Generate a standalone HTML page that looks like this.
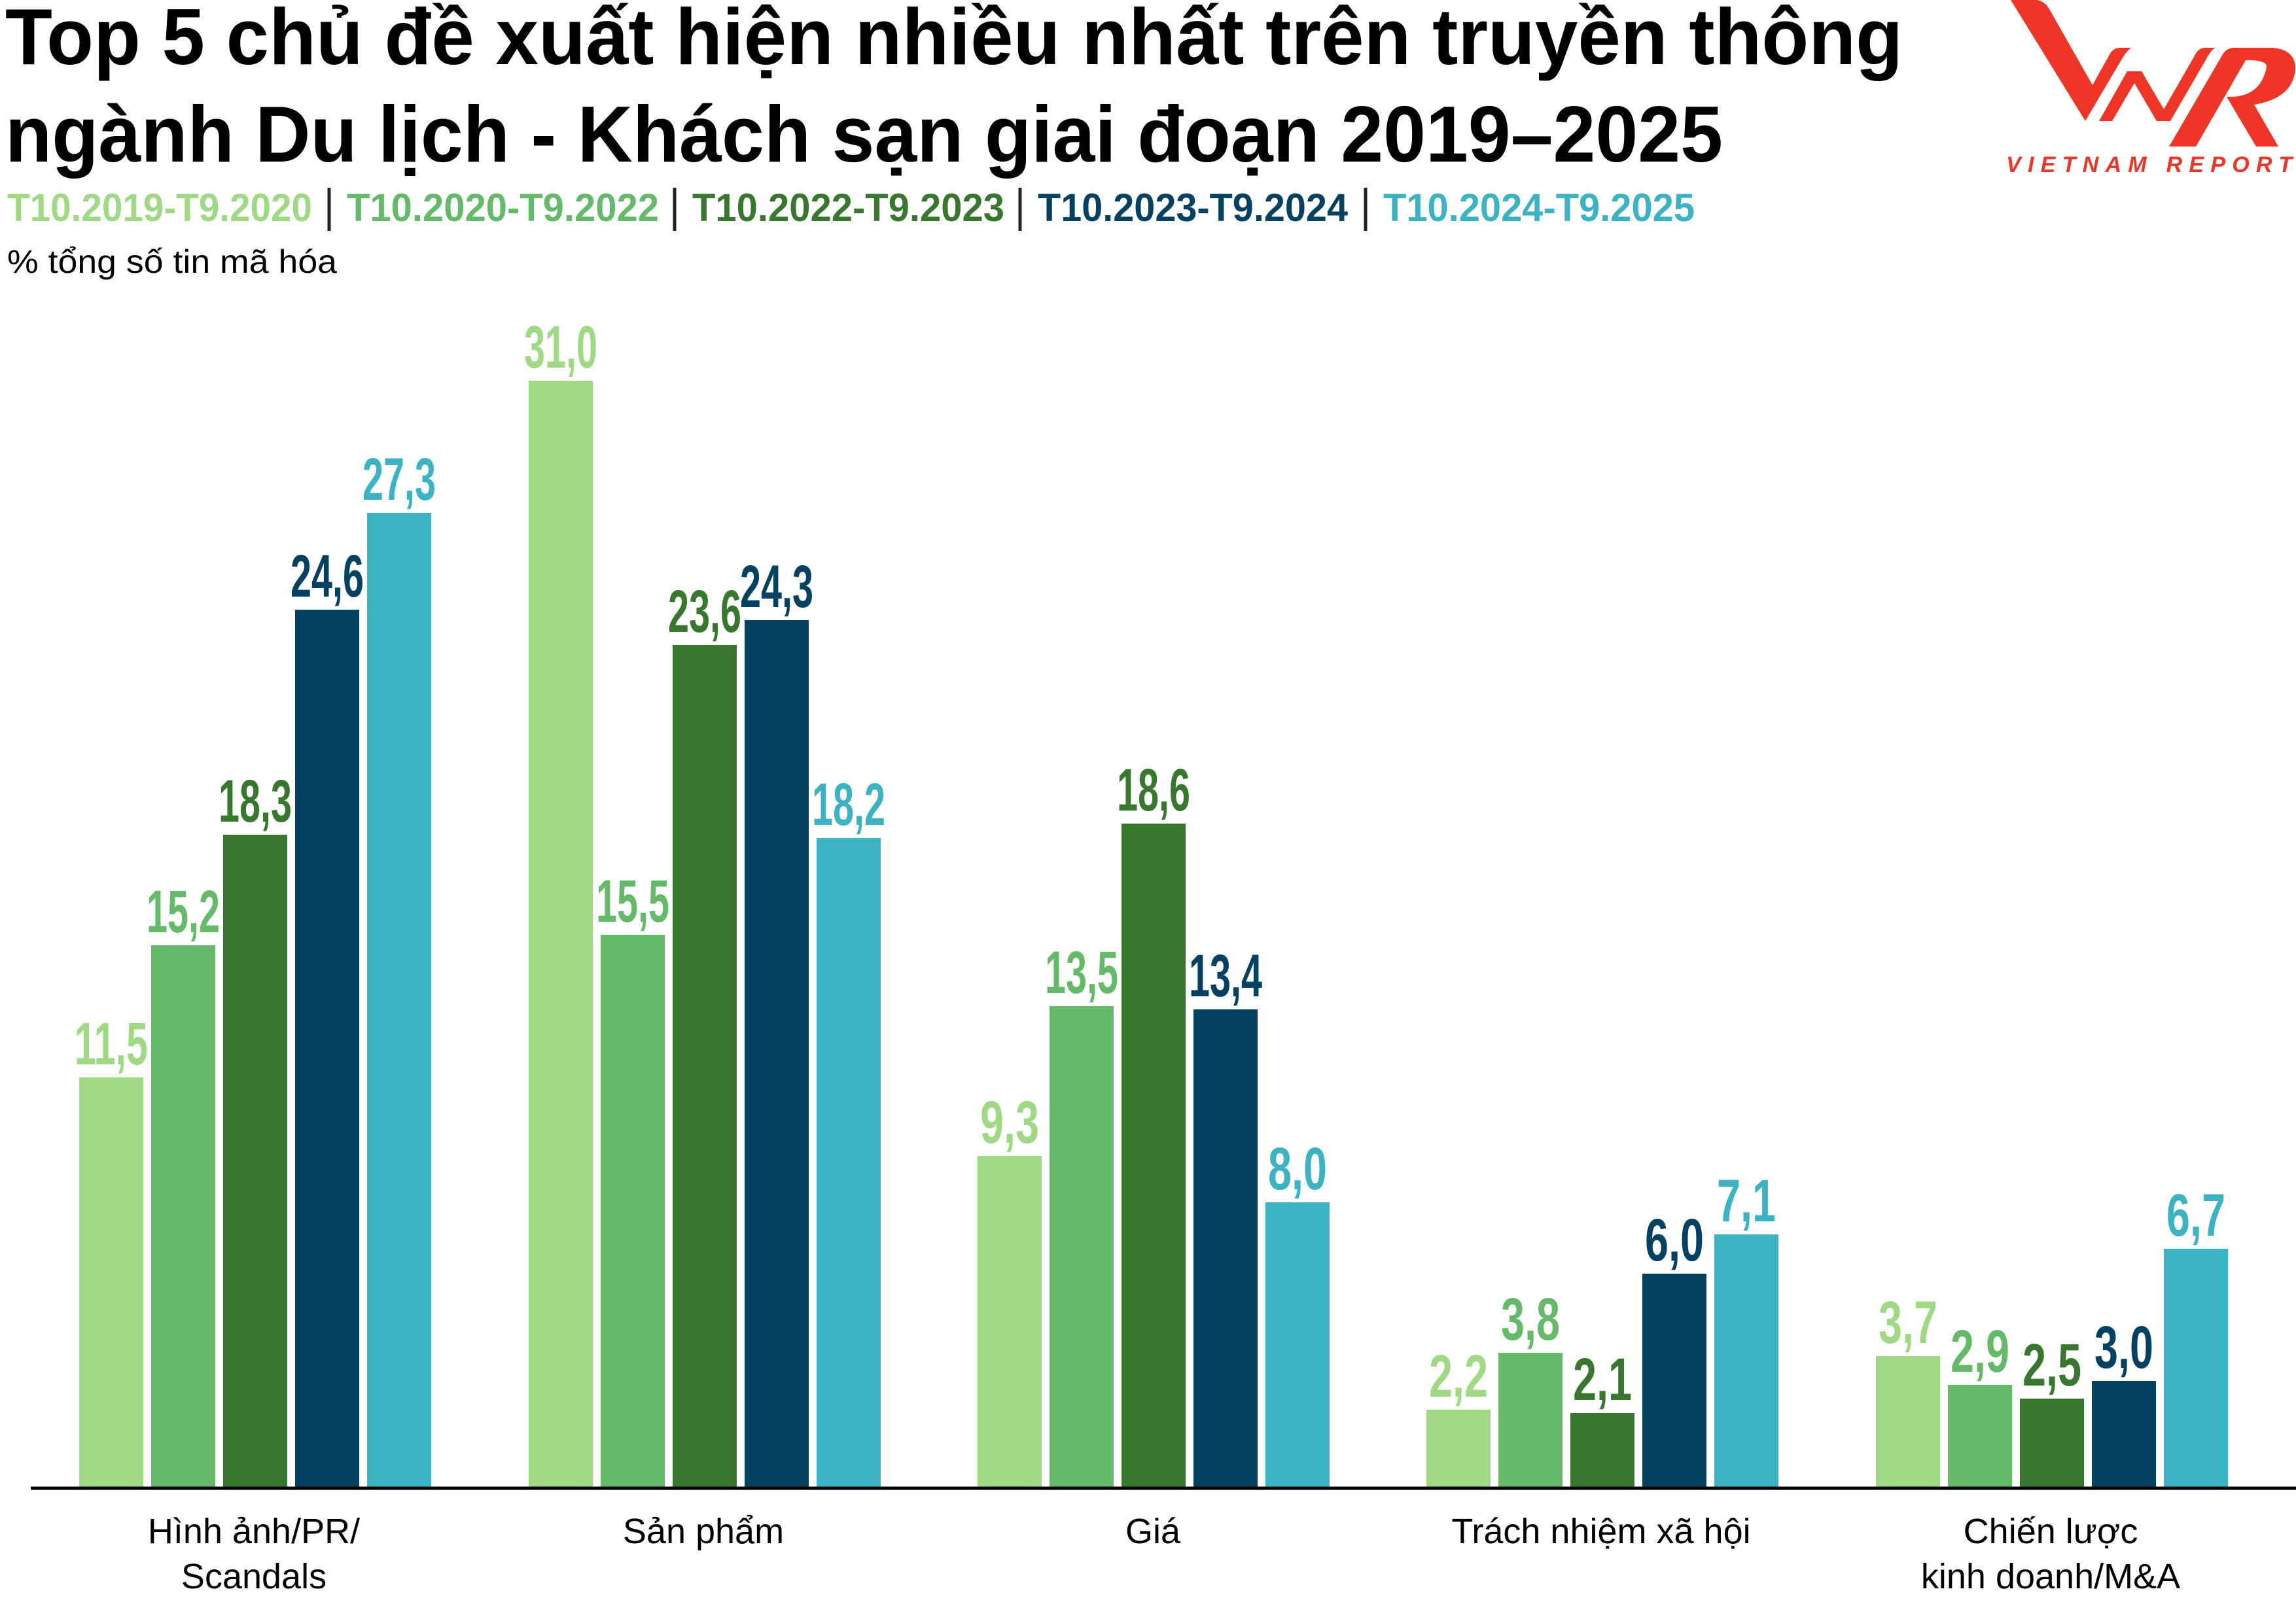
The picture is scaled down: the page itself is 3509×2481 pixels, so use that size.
<!DOCTYPE html>
<html><head><meta charset="utf-8"><style>
html,body{margin:0;padding:0;background:#fff;width:3509px;height:2481px;overflow:hidden}
svg{display:block}
.t{font-family:"Liberation Sans","Noto Sans CJK SC",sans-serif;font-weight:bold}
.n{font-family:"Liberation Sans Narrow","Liberation Sans",sans-serif;font-weight:bold;font-size:92px;text-anchor:middle}
.c{font-family:"Liberation Sans",sans-serif;font-size:54px;text-anchor:middle;fill:#000}
</style></head><body>
<svg width="3509" height="2481" viewBox="0 0 3509 2481" xmlns="http://www.w3.org/2000/svg">
<text class="t" x="8" y="98" font-size="122" textLength="2900" lengthAdjust="spacingAndGlyphs">Top 5 chủ đề xuất hiện nhiều nhất trên truyền thông</text>
<text class="t" x="8" y="247" font-size="122" textLength="2625" lengthAdjust="spacingAndGlyphs">ngành Du lịch - Khách sạn giai đoạn 2019–2025</text>
<g class="t" font-size="60">
<text x="11" y="338" fill="#a0d984" textLength="466" lengthAdjust="spacingAndGlyphs">T10.2019-T9.2020</text>
<text x="530" y="338" fill="#64ba69" textLength="477" lengthAdjust="spacingAndGlyphs">T10.2020-T9.2022</text>
<text x="1058" y="338" fill="#38782e" textLength="477" lengthAdjust="spacingAndGlyphs">T10.2022-T9.2023</text>
<text x="1586" y="338" fill="#034163" textLength="474" lengthAdjust="spacingAndGlyphs">T10.2023-T9.2024</text>
<text x="2114" y="338" fill="#3cb3c3" textLength="476" lengthAdjust="spacingAndGlyphs">T10.2024-T9.2025</text>
</g>
<g stroke="#222" stroke-width="5">
<line x1="503" y1="287" x2="503" y2="353"/><line x1="1031" y1="287" x2="1031" y2="353"/>
<line x1="1559" y1="287" x2="1559" y2="353"/><line x1="2087" y1="287" x2="2087" y2="353"/>
</g>
<text x="11" y="417" font-family="Liberation Sans,sans-serif" font-size="50" textLength="504" lengthAdjust="spacingAndGlyphs">% tổng số tin mã hóa</text>
<!-- logo -->
<g fill="#ee3526" transform="translate(3040,0)">
<path d="M33,0 L73,0 Q85,2 92,14 L158,130 L186,80 Q192,73 200,73 L217,73 Q210,78 203,90 L147,185 Z"/>
<path d="M168,185 L211,109 L233,109 L267,167 L317,80 Q322,73 330,73 L345,73 Q338,78 332,90 L277,185 L256,185 L222,127 L188,185 Z"/>
<path d="M275,224 L357,83 Q363,73 375,73 L433,73 Q468,76 468,105 Q465,150 405,160 L442,224 L408,224 L363,148 L372,148 Q415,146 424,103 Q426,93 400,92 L392,92 L316,224 Z"/>
</g>
<text x="3066" y="263" font-family="Liberation Sans,sans-serif" font-weight="bold" font-style="italic" font-size="34" fill="#ee3526" textLength="437" lengthAdjust="spacing">VIETNAM REPORT</text>
<!-- bars -->
<g>
<rect x="121" y="1647" width="98" height="628" fill="#a0d984"/>
<rect x="231" y="1445" width="98" height="830" fill="#64ba69"/>
<rect x="341" y="1276" width="98" height="999" fill="#38782e"/>
<rect x="451" y="932" width="98" height="1343" fill="#034163"/>
<rect x="561" y="784" width="98" height="1491" fill="#3cb3c3"/>
<rect x="808" y="582" width="98" height="1693" fill="#a0d984"/>
<rect x="918" y="1429" width="98" height="846" fill="#64ba69"/>
<rect x="1028" y="986" width="98" height="1289" fill="#38782e"/>
<rect x="1138" y="948" width="98" height="1327" fill="#034163"/>
<rect x="1248" y="1281" width="98" height="994" fill="#3cb3c3"/>
<rect x="1494" y="1767" width="98" height="508" fill="#a0d984"/>
<rect x="1604" y="1538" width="98" height="737" fill="#64ba69"/>
<rect x="1714" y="1259" width="98" height="1016" fill="#38782e"/>
<rect x="1824" y="1543" width="98" height="732" fill="#034163"/>
<rect x="1934" y="1838" width="98" height="437" fill="#3cb3c3"/>
<rect x="2180" y="2155" width="98" height="120" fill="#a0d984"/>
<rect x="2290" y="2068" width="98" height="207" fill="#64ba69"/>
<rect x="2400" y="2160" width="98" height="115" fill="#38782e"/>
<rect x="2510" y="1947" width="98" height="328" fill="#034163"/>
<rect x="2620" y="1887" width="98" height="388" fill="#3cb3c3"/>
<rect x="2867" y="2073" width="98" height="202" fill="#a0d984"/>
<rect x="2977" y="2117" width="98" height="158" fill="#64ba69"/>
<rect x="3087" y="2138" width="98" height="137" fill="#38782e"/>
<rect x="3197" y="2111" width="98" height="164" fill="#034163"/>
<rect x="3307" y="1909" width="98" height="366" fill="#3cb3c3"/>
</g>
<line x1="47" y1="2275" x2="3509" y2="2275" stroke="#000" stroke-width="5"/>
<g class="n">
<text x="170" y="1627" fill="#a0d984" textLength="112" lengthAdjust="spacingAndGlyphs">11,5</text>
<text x="280" y="1425" fill="#64ba69" textLength="112" lengthAdjust="spacingAndGlyphs">15,2</text>
<text x="390" y="1256" fill="#38782e" textLength="112" lengthAdjust="spacingAndGlyphs">18,3</text>
<text x="500" y="912" fill="#034163" textLength="112" lengthAdjust="spacingAndGlyphs">24,6</text>
<text x="610" y="764" fill="#3cb3c3" textLength="112" lengthAdjust="spacingAndGlyphs">27,3</text>
<text x="857" y="562" fill="#a0d984" textLength="112" lengthAdjust="spacingAndGlyphs">31,0</text>
<text x="967" y="1409" fill="#64ba69" textLength="112" lengthAdjust="spacingAndGlyphs">15,5</text>
<text x="1077" y="966" fill="#38782e" textLength="112" lengthAdjust="spacingAndGlyphs">23,6</text>
<text x="1187" y="928" fill="#034163" textLength="112" lengthAdjust="spacingAndGlyphs">24,3</text>
<text x="1297" y="1261" fill="#3cb3c3" textLength="112" lengthAdjust="spacingAndGlyphs">18,2</text>
<text x="1543" y="1747" fill="#a0d984" textLength="90" lengthAdjust="spacingAndGlyphs">9,3</text>
<text x="1653" y="1518" fill="#64ba69" textLength="112" lengthAdjust="spacingAndGlyphs">13,5</text>
<text x="1763" y="1239" fill="#38782e" textLength="112" lengthAdjust="spacingAndGlyphs">18,6</text>
<text x="1873" y="1523" fill="#034163" textLength="112" lengthAdjust="spacingAndGlyphs">13,4</text>
<text x="1983" y="1818" fill="#3cb3c3" textLength="90" lengthAdjust="spacingAndGlyphs">8,0</text>
<text x="2229" y="2135" fill="#a0d984" textLength="90" lengthAdjust="spacingAndGlyphs">2,2</text>
<text x="2339" y="2048" fill="#64ba69" textLength="90" lengthAdjust="spacingAndGlyphs">3,8</text>
<text x="2449" y="2140" fill="#38782e" textLength="90" lengthAdjust="spacingAndGlyphs">2,1</text>
<text x="2559" y="1927" fill="#034163" textLength="90" lengthAdjust="spacingAndGlyphs">6,0</text>
<text x="2669" y="1867" fill="#3cb3c3" textLength="90" lengthAdjust="spacingAndGlyphs">7,1</text>
<text x="2916" y="2053" fill="#a0d984" textLength="90" lengthAdjust="spacingAndGlyphs">3,7</text>
<text x="3026" y="2097" fill="#64ba69" textLength="90" lengthAdjust="spacingAndGlyphs">2,9</text>
<text x="3136" y="2118" fill="#38782e" textLength="90" lengthAdjust="spacingAndGlyphs">2,5</text>
<text x="3246" y="2091" fill="#034163" textLength="90" lengthAdjust="spacingAndGlyphs">3,0</text>
<text x="3356" y="1889" fill="#3cb3c3" textLength="90" lengthAdjust="spacingAndGlyphs">6,7</text>
</g>
<g class="c">
<text x="388" y="2359">Hình ảnh/PR/</text>
<text x="388" y="2428">Scandals</text>
<text x="1075" y="2359">Sản phẩm</text>
<text x="1762" y="2359">Giá</text>
<text x="2447" y="2359">Trách nhiệm xã hội</text>
<text x="3134" y="2359">Chiến lược</text>
<text x="3134" y="2428">kinh doanh/M&amp;A</text>
</g>
</svg>
</body></html>
